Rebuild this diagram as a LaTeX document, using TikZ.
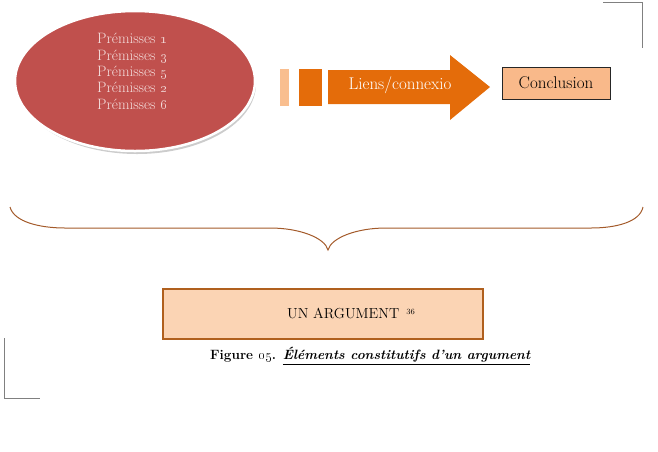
\documentclass[tikz,border=0pt]{standalone}
\usetikzlibrary{shapes.geometric}
\definecolor{ellred}{HTML}{C0504D}
\definecolor{elltext}{HTML}{F4DEDD}
\definecolor{arrorange}{HTML}{E46C0A}
\definecolor{lightbar}{HTML}{F9BE8F}
\definecolor{conclfill}{HTML}{F9B98A}
\definecolor{argfill}{HTML}{FBD4B4}
\definecolor{argborder}{HTML}{B0601E}
\definecolor{bracecol}{HTML}{A35A2A}
\definecolor{cornergray}{HTML}{808080}
\begin{document}
\begin{tikzpicture}[x=1pt,y=-1pt,
  txt/.style={inner sep=0pt},
  cornerline/.style={draw=cornergray,line width=1pt}]
\useasboundingbox (0,0) rectangle (658,451);
% ellipse with shadow
\fill[gray!40] (137,84) ellipse [x radius=119, y radius=70];
\node[ellipse,fill=ellred,draw=white,line width=2.5pt,minimum width=240pt,minimum height=140pt,inner sep=0pt] (prem) at (135,81) {};
\node[txt,text=elltext,align=left,anchor=north west,font=\fontsize{15}{16.4}\selectfont] (premtxt) at (97,33)
 {Prémisses \oldstylenums{1}\\Prémisses \oldstylenums{3}\\Prémisses \oldstylenums{5}\\Prémisses \oldstylenums{2}\\Prémisses \oldstylenums{6}};
% bars and arrow
\fill[lightbar] (280,69) rectangle (289,106);
\fill[arrorange] (299,69) rectangle (322,106);
\fill[arrorange] (328,70) -- (450,70) -- (450,55) -- (490,87) -- (450,120) -- (450,104) -- (328,104) -- cycle;
\node[txt,text=white,font=\fontsize{17}{18}\selectfont] (liens) at (400,85) {Liens/connexio};
% conclusion
\node[draw=black!85,fill=conclfill,line width=0.8pt,minimum width=108pt,minimum height=32pt,inner sep=0pt,font=\fontsize{17}{18}\selectfont] (concl) at (556,83) {Conclusion};
% brace
\draw[bracecol,line width=1pt] (10,207) .. controls (14,222) and (40,228) .. (65,228)
  -- (270,228) .. controls (300,228) and (325,238) .. (328,250)
  .. controls (331,238) and (356,228) .. (386,228)
  -- (591,228) .. controls (616,228) and (640,222) .. (643,207);
% argument box
\node[draw=argborder,fill=argfill,line width=2pt,minimum width=320pt,minimum height=50pt,inner sep=0pt] (arg) at (322.5,313.5) {};
\node[txt,font=\fontsize{14.5}{16}\selectfont,anchor=west] (argtxt) at (287,313) {UN ARGUMENT\, \raisebox{0.6ex}{\fontsize{8}{9}\selectfont 36}};
% caption
\node[txt,font=\fontsize{13.5}{15}\selectfont\bfseries,anchor=west] (cap) at (210,356) {Figure \oldstylenums{05}. \underline{\itshape Éléments constitutifs d’un argument}};
% corner marks
\draw[cornerline] (603,2.5) -- (642,2.5) -- (642,48);
\draw[cornerline] (4,338) -- (4,398) -- (40,398);
\end{tikzpicture}
\end{document}
